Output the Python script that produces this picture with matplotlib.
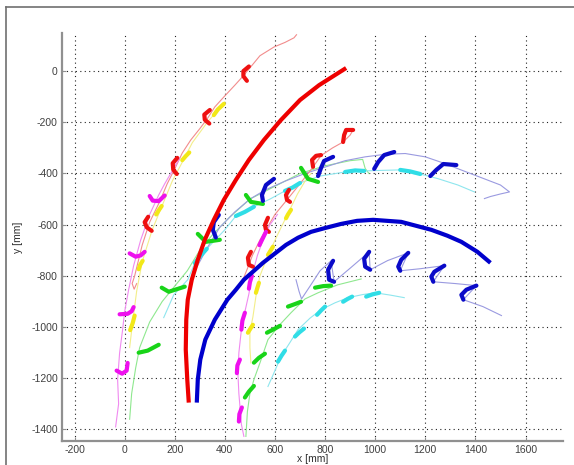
import matplotlib
matplotlib.use("Agg")
import matplotlib.pyplot as plt
from matplotlib.lines import Line2D

# fitted arcs (thick)
red_arc_x = [256, 250, 244, 246, 252, 268, 292, 320, 356, 396, 444, 496, 556, 624, 700, 776, 884]
red_arc_y = [-1295, -1205, -1088, -971, -893, -815, -737, -659, -581, -503, -425, -347, -269,
             -191, -113, -55, 12]
blue_arc_x = [288, 292, 302, 322, 360, 410, 444, 476, 552, 644, 692, 744, 804, 864, 928, 992,
              1104, 1224, 1288, 1344, 1408, 1460]
blue_arc_y = [-1295, -1205, -1127, -1049, -971, -893, -854, -815, -749, -679, -651, -628, -612,
              -597, -585, -581, -589, -620, -643, -667, -706, -749]

# left group
a_red_path = [(686, 142), (676, 130), (640, 112), (596, 94), (540, 60), (476, -16), (440, -55),
              (396, -101), (360, -140), (332, -183), (300, -225), (264, -269), (230, -320),
              (204, -374), (170, -440), (140, -510), (100, -590), (70, -680), (50, -760),
              (40, -800), (30, -830), (38, -852), (48, -830)]
a_red_steps = [[(496, 18), (474, 0), (474, -20), (488, -38)],
               [(340, -152), (318, -170), (320, -190), (338, -205)],
               [(210, -339), (192, -360), (194, -385), (208, -402)],
               [(94, -569), (80, -590), (88, -610), (108, -624)]]
a_yellow_path = [(400, -120), (330, -200), (270, -280), (236, -345), (190, -430), (150, -525),
                 (110, -620), (70, -745), (48, -860), (32, -980), (20, -1080)]
a_yellow_steps = [[(356, -172), (372, -150), (396, -128)],
                  [(230, -348), (244, -332), (258, -318)],
                  [(126, -560), (136, -544), (148, -527)],
                  [(56, -774), (62, -757), (72, -741)],
                  [(22, -1012), (32, -985), (40, -955)]]
a_magenta_path = [(220, -340), (190, -390), (160, -440), (136, -484), (100, -560), (64, -660),
                  (36, -760), (16, -854), (0, -940), (-8, -1010), (-20, -1100), (-28, -1205),
                  (-24, -1300), (-36, -1390)]
a_magenta_steps = [[(100, -488), (112, -506), (136, -508), (160, -486)],
                   [(20, -712), (44, -725), (64, -720), (80, -706)],
                   [(-20, -950), (12, -948), (28, -938), (36, -922)],
                   [(-32, -1170), (-10, -1182), (8, -1170), (12, -1140)]]

# middle arc
g1_path = [(20, -1360), (28, -1260), (44, -1160), (60, -1080), (100, -980), (150, -900),
           (200, -840), (250, -780), (300, -700), (350, -640), (420, -570), (500, -500),
           (600, -450), (700, -400), (800, -370), (900, -350), (950, -345), (960, -380), (975, -400)]
g1_steps = [[(56, -1100), (92, -1092), (136, -1069)],
            [(148, -846), (176, -862), (240, -842)],
            [(292, -636), (324, -667), (380, -659)],
            [(484, -484), (504, -511), (552, -519)],
            [(704, -378), (732, -421), (772, -433)]]
c1_path = [(156, -963), (196, -874), (252, -815), (280, -750), (328, -694), (400, -620),
           (444, -566), (516, -530), (580, -500), (640, -468), (700, -437), (780, -410),
           (880, -394), (956, -390), (1020, -388), (1100, -386), (1180, -402), (1250, -420),
           (1330, -445), (1396, -472)]
c1_steps = [[(280, -750), (300, -725), (328, -694)],
            [(444, -566), (480, -550), (516, -530)],
            [(640, -468), (670, -455), (700, -437)],
            [(880, -394), (920, -388), (956, -390)],
            [(1100, -386), (1140, -392), (1180, -402)]]
b1_path = [(280, -780), (330, -690), (380, -610), (440, -550), (500, -500), (560, -465),
           (640, -430), (720, -400), (800, -375), (880, -350), (960, -335), (1040, -325),
           (1120, -322), (1200, -335), (1260, -355), (1340, -385), (1420, -415), (1500, -445),
           (1536, -472), (1500, -480), (1460, -490), (1436, -498)]
b1_steps = [[(376, -562), (356, -590), (352, -620), (364, -650)],
            [(596, -421), (564, -445), (548, -484), (552, -507)],
            [(832, -335), (796, -351), (784, -378), (772, -410)],
            [(1076, -316), (1036, -328), (1012, -355), (996, -382)],
            [(1324, -367), (1272, -363), (1244, -386), (1220, -410)]]

# middle group (near x = 500)
b_red_path = [(470, -820), (496, -757), (510, -720), (540, -660), (564, -620), (600, -560),
              (648, -503), (700, -440), (748, -380), (784, -330), (830, -300), (872, -277),
              (900, -250), (912, -230)]
b_red_steps = [[(504, -706), (492, -729), (496, -757), (512, -764)],
               [(572, -573), (560, -601), (564, -620), (576, -628)],
               [(656, -464), (644, -484), (648, -503), (660, -511)],
               [(784, -328), (764, -331), (748, -347), (752, -374)],
               [(912, -230), (884, -230), (876, -250), (872, -277)]]
b_magenta_path = [(476, -1427), (466, -1380), (462, -1330), (456, -1260), (452, -1180),
                  (456, -1100), (466, -1010), (480, -940), (496, -870), (508, -800),
                  (530, -720), (552, -660), (580, -600), (610, -560)]
b_magenta_steps = [[(564, -628), (552, -652), (538, -680)],
                   [(508, -800), (500, -825), (496, -850)],
                   [(480, -944), (470, -975), (466, -1010)],
                   [(460, -1127), (450, -1150), (448, -1180)],
                   [(468, -1314), (458, -1340), (456, -1369)]]
b_yellow_path = [(504, -1140), (500, -1080), (500, -1020), (512, -960), (524, -880),
                 (540, -800), (572, -720), (610, -640), (650, -560), (690, -480),
                 (720, -430), (744, -400)]
b_yellow_steps = [[(644, -575), (652, -560), (664, -542)],
                  [(572, -718), (582, -702), (592, -686)],
                  [(524, -866), (530, -846), (536, -827)],
                  [(492, -1022), (502, -1006), (512, -991)]]

# lower right group
g2_path = [(484, -1427), (490, -1330), (500, -1260), (516, -1205), (540, -1140), (572, -1049),
           (620, -990), (664, -944), (720, -890), (772, -866), (850, -835), (944, -812)]
g2_steps = [[(480, -1275), (496, -1252), (516, -1230)],
            [(516, -1139), (536, -1120), (560, -1104)],
            [(568, -1022), (592, -1010), (620, -995)],
            [(652, -920), (680, -910), (704, -901)],
            [(760, -846), (792, -840), (824, -838)]]
c2_path = [(572, -1232), (600, -1170), (624, -1115), (660, -1060), (692, -1010), (740, -965),
           (784, -932), (840, -905), (892, -885), (950, -873), (1000, -866), (1060, -875),
           (1116, -885)]
c2_steps = [[(612, -1135), (626, -1112), (640, -1092)],
            [(680, -1037), (698, -1020), (716, -1006)],
            [(768, -952), (784, -935), (800, -920)],
            [(872, -901), (890, -890), (908, -881)],
            [(964, -881), (990, -872), (1016, -866)]]
b2_path = [(684, -815), (696, -860), (706, -890), (740, -840), (780, -780), (824, -741),
           (836, -823), (900, -770), (976, -706), (980, -776), (1050, -740), (1132, -710),
           (1100, -780), (1180, -772), (1276, -760), (1232, -823), (1320, -830), (1404, -838),
           (1352, -893), (1430, -920), (1504, -955)]
b2_steps = [[(832, -741), (812, -776), (816, -815), (836, -823)],
            [(976, -706), (956, -733), (960, -764), (980, -776)],
            [(1132, -710), (1104, -737), (1092, -764), (1100, -780)],
            [(1276, -760), (1236, -784), (1224, -803), (1232, -823)],
            [(1404, -838), (1364, -854), (1344, -874), (1352, -893)]]

xticks = list(range(-200, 1601, 200))
yticks = list(range(-1400, 1, 200))

plt.rcParams['axes.unicode_minus'] = False
plt.rcParams['font.family'] = 'Liberation Sans'

fig = plt.figure(figsize=(5.74, 4.65), dpi=100)
ax = fig.add_axes([0.108, 0.0516, 0.873, 0.877])

thin = {'r': '#f28c8c', 'm': '#f08af0', 'y': '#f3ee8a', 'g': '#8fe88f', 'c': '#8ee6ee', 'b': '#9a9ae0'}
bold = {'r': '#ee1010', 'm': '#ee10ee', 'y': '#f2e818', 'g': '#18d418', 'c': '#30dde6', 'b': '#0a0ac8'}

tracks = [(a_red_path, a_red_steps, 'r'), (a_yellow_path, a_yellow_steps, 'y'),
          (a_magenta_path, a_magenta_steps, 'm'), (g1_path, g1_steps, 'g'),
          (c1_path, c1_steps, 'c'), (b1_path, b1_steps, 'b'),
          (b_red_path, b_red_steps, 'r'), (b_magenta_path, b_magenta_steps, 'm'),
          (b_yellow_path, b_yellow_steps, 'y'), (g2_path, g2_steps, 'g'),
          (c2_path, c2_steps, 'c'), (b2_path, b2_steps, 'b')]

for path, steps, col in tracks:
    ax.plot([p[0] for p in path], [p[1] for p in path], color=thin[col], lw=0.8, zorder=2)
for path, steps, col in tracks:
    for s in steps:
        ax.plot([p[0] for p in s], [p[1] for p in s], color=bold[col], lw=3.0,
                solid_capstyle='round', solid_joinstyle='round', zorder=3)

ax.plot(red_arc_x, red_arc_y, color='#ee0000', lw=3.0, solid_capstyle='butt',
        solid_joinstyle='round', zorder=4)
ax.plot(blue_arc_x, blue_arc_y, color='#0000cc', lw=3.0, solid_capstyle='butt',
        solid_joinstyle='round', zorder=4)

ax.set_xlim(-250, 1750)
ax.set_ylim(-1445, 148)
ax.set_xticks(xticks)
ax.set_yticks(yticks)
ax.grid(True, color='#222222', lw=0.8, dashes=(1, 3))
ax.set_axisbelow(True)
for sp in ['top', 'right']:
    ax.spines[sp].set_visible(False)
for sp in ['left', 'bottom']:
    ax.spines[sp].set_color('#909090')
    ax.spines[sp].set_linewidth(1.6)
ax.tick_params(direction='in', length=3, color='#909090', labelsize=7.5,
               labelcolor='#404040', pad=3)
ax.set_xlabel('x [mm]', fontsize=7.5, color='#303030', labelpad=-1)
ax.set_ylabel('y [mm]', fontsize=7.5, color='#303030', labelpad=6)

# screenshot frame
fig.add_artist(Line2D([6 / 574, 6 / 574], [0, 1 - 7 / 465], color='#707070', lw=1.2))
fig.add_artist(Line2D([6 / 574, 1], [1 - 7 / 465, 1 - 7 / 465], color='#707070', lw=1.2))

fig.savefig('out.png', dpi=100)
